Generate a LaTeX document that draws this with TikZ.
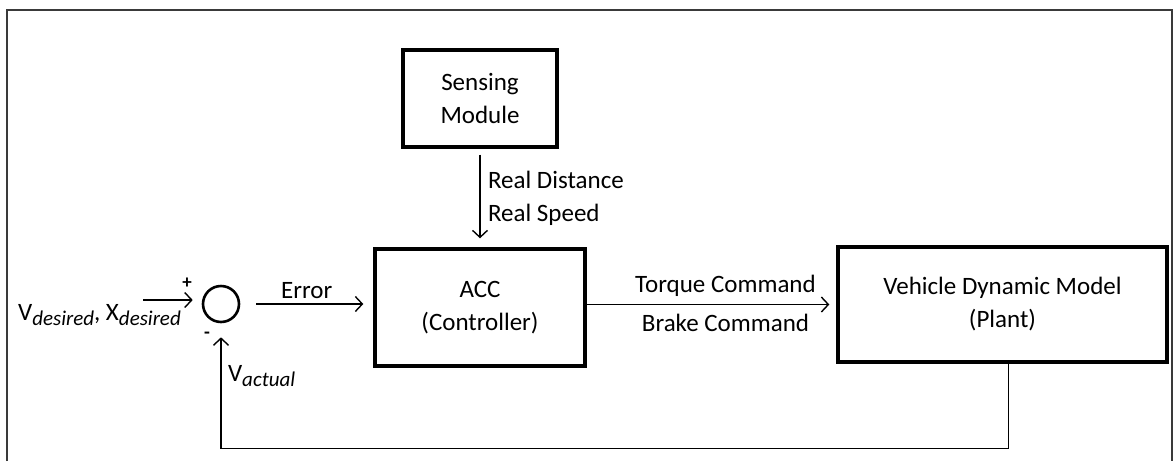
\documentclass[tikz,border=0pt]{standalone}
\usepackage{fontspec}
\setmainfont{Carlito}
\usepackage{xcolor}
\usetikzlibrary{positioning, arrows.meta, calc}
\definecolor{frameline}{HTML}{3a3a3a}
\newcommand{\lowidx}[1]{\raisebox{-5pt}{\fontsize{21}{21}\selectfont\itshape #1}}

\begin{document}
\begin{tikzpicture}[x=1pt, y=-1pt,
  font=\fontsize{25}{33}\selectfont,
  blk/.style={draw, line width=3.4pt, align=center, inner sep=0pt},
  arr/.style={-{Straight Barb[length=7pt, width=15pt]}, line width=1.4pt},
  sgn/.style={font=\fontsize{19}{19}\selectfont\bfseries, inner sep=0pt}]
\useasboundingbox (0,0) rectangle (1174,461);
\draw[frameline, line width=1.5pt] (7,461) -- (7,10) -- (1172,10) -- (1172,461);

\node[blk, minimum width=154pt, minimum height=97pt] (sense) at (480,98.5) {Sensing\\Module};
\node[blk, minimum width=210pt, minimum height=117pt] (acc) at (480,307.5) {ACC\\(Controller)};
\node[blk, minimum width=329pt, minimum height=115pt] (veh) at (1002.5,304.5) {Vehicle Dynamic Model\\(Plant)};
\node[draw, circle, line width=2.6pt, minimum size=36pt, inner sep=0pt] (sum) at (221,304) {};

\node[anchor=east, inner sep=0pt] (ref) at (181,315) {V\lowidx{desired}, X\lowidx{desired}};
\coordinate (vin) at (143,300);
\node[sgn] (plus) at (187,283) {+};
\node[sgn] (minus) at (207,335) {-};

\draw[arr, shorten >=9pt] (vin) -- (vin -| sum.west);
\draw[arr, shorten <=16pt, shorten >=10pt] (sum.east) -- node[above=1pt]{Error} (sum.east -| acc.west);
\draw[arr, shorten <=6pt, shorten >=9pt] (sense.south) -- node[right=4pt, align=left]{Real Distance\\Real Speed} (acc.north);
\draw[arr, shorten >=7pt] ([yshift=3pt]acc.east) -- node[above=4pt, xshift=14pt]{Torque Command} node[below=6pt, xshift=14pt]{Brake Command} ([yshift=3pt]acc.east -| veh.west);

% feedback loop
\draw[arr, shorten >=14pt] ([xshift=6pt]veh.south) -- ++(0,85) -| node[pos=0.79, right=3pt]{V\lowidx{actual}} (sum.south);

\end{tikzpicture}
\end{document}
